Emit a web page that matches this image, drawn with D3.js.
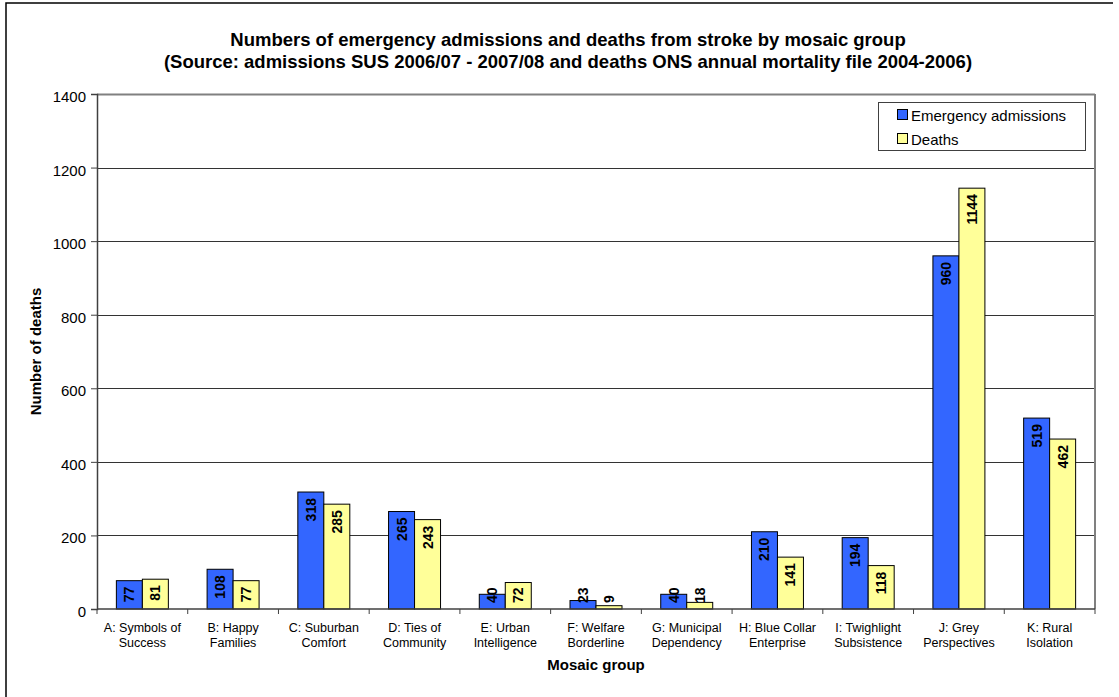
<!DOCTYPE html>
<html><head><meta charset="utf-8">
<script src="https://cdn.jsdelivr.net/npm/d3@7"></script>
<style>body{margin:0;background:#fff}svg{display:block;font-family:Arial,"Liberation Sans",sans-serif}</style>
</head><body><svg id="c" width="1119" height="697"></svg>
<script>
const categories = [["A: Symbols of","Success"],["B: Happy","Families"],["C: Suburban","Comfort"],["D: Ties of","Community"],["E: Urban","Intelligence"],["F: Welfare","Borderline"],["G: Municipal","Dependency"],["H: Blue Collar","Enterprise"],["I: Twighlight","Subsistence"],["J: Grey","Perspectives"],["K: Rural","Isolation"]];
const seriesNames = ["Emergency admissions","Deaths"];
const admissions = [77,108,318,265,40,23,40,210,194,960,519];
const deaths = [81,77,285,243,72,9,18,141,118,1144,462];
const yTicks = [0,200,400,600,800,1000,1200,1400];
const colors = ["#3366FF","#FFFF99"];
const titleLines = ["Numbers of emergency admissions and deaths from stroke by mosaic group","(Source: admissions SUS 2006/07 - 2007/08 and deaths ONS annual mortality file 2004-2006)"];

const svg = d3.select("#c");
const L=97,R=1095,T=94,B=609;
const keys = categories.map(c=>c.join(" "));
const x0 = d3.scaleBand().domain(keys).range([L,R]).padding(0);
const groupW = x0.bandwidth()*0.573;
const x1 = d3.scaleBand().domain(seriesNames).range([0,groupW]).padding(0);
const y = d3.scaleLinear().domain([0,1400]).range([B,T]);
const series=[admissions,deaths];

// outer frame
svg.append("path").attr("d","M1113,3H6V697").attr("fill","none").attr("stroke","#000").attr("stroke-width",1.5);

// title
const tt = svg.append("text").attr("x",568).attr("text-anchor","middle").attr("font-weight","bold").attr("font-size","18.5px").attr("fill","#000");
titleLines.forEach((l,i)=>tt.append("tspan").attr("x",568).attr("y",46+i*22).text(l));

// gridlines
svg.append("g").selectAll("line").data(yTicks.filter(v=>v>0)).join("line")
 .attr("x1",L).attr("x2",R).attr("y1",d=>Math.round(y(d))+0.5).attr("y2",d=>Math.round(y(d))+0.5)
 .attr("stroke",d=>d===1400?"#808080":"#333").attr("stroke-width",d=>d===1400?2:1);
// right border
svg.append("line").attr("x1",R).attr("x2",R).attr("y1",T).attr("y2",B).attr("stroke","#808080").attr("stroke-width",2);

// bars
const g = svg.append("g");
categories.forEach((c,i)=>{
  const gx = x0(keys[i]) + (x0.bandwidth()-groupW)/2;
  series.forEach((s,j)=>{
    const v=s[i];
    const bx = gx + x1(seriesNames[j]);
    g.append("rect").attr("x",bx).attr("y",y(v)).attr("width",x1.bandwidth()).attr("height",B-y(v))
      .attr("fill",colors[j]).attr("stroke","#000").attr("stroke-width",1);
    const txt = String(v);
    const len = txt.length*7.8;
    const topY = Math.min(y(v)+6, B-6-len);
    g.append("text").attr("transform",`translate(${bx+x1.bandwidth()/2+5},${topY}) rotate(-90)`)
      .attr("text-anchor","end").attr("font-weight","bold").attr("font-size","14px").attr("fill","#000").text(txt);
  });
});

// y axis
const ya = svg.append("g").attr("transform",`translate(${L},0)`).call(d3.axisLeft(y).tickValues(yTicks).tickSize(6).tickPadding(5).tickFormat(d3.format("d")));
ya.select(".domain").attr("stroke","#404040").attr("stroke-width",1.5);
ya.selectAll(".tick line").attr("stroke","#404040");
ya.selectAll("text").attr("font-size","15px").attr("font-family","Arial,'Liberation Sans',sans-serif").attr("fill","#000").attr("dy","0.5em");

// x axis
const xa = svg.append("g").attr("transform",`translate(0,${B})`);
xa.append("line").attr("x1",L).attr("x2",R).attr("y1",0).attr("y2",0).attr("stroke","#404040").attr("stroke-width",1.5);
const bounds = keys.map(k=>x0(k)).concat([R]);
xa.selectAll("line.t").data(bounds).join("line").attr("class","t").attr("x1",d=>d).attr("x2",d=>d).attr("y1",0).attr("y2",5).attr("stroke","#404040");
categories.forEach((c,i)=>{
  const t = xa.append("text").attr("text-anchor","middle").attr("font-size","12.5px").attr("fill","#000");
  c.forEach((l,k)=>t.append("tspan").attr("x",x0(keys[i])+x0.bandwidth()/2).attr("y",23+k*14.5).text(l));
});

// axis titles
svg.append("text").attr("x",(L+R)/2).attr("y",670).attr("text-anchor","middle").attr("font-weight","bold").attr("font-size","15px").text("Mosaic group");
svg.append("text").attr("transform",`translate(41,${(T+B)/2}) rotate(-90)`).attr("text-anchor","middle").attr("font-weight","bold").attr("font-size","15px").text("Number of deaths");

// legend
const lg = svg.append("g");
lg.append("rect").attr("x",878.5).attr("y",102.5).attr("width",207).attr("height",48).attr("fill","#fff").attr("stroke","#404040");
seriesNames.forEach((n,j)=>{
  lg.append("rect").attr("x",897.5).attr("y",109.5+j*24).attr("width",10).attr("height",10).attr("fill",colors[j]).attr("stroke","#000");
  lg.append("text").attr("x",911).attr("y",121+j*23.5).attr("font-size","15px").attr("fill","#000").text(n);
});
</script></body></html>
